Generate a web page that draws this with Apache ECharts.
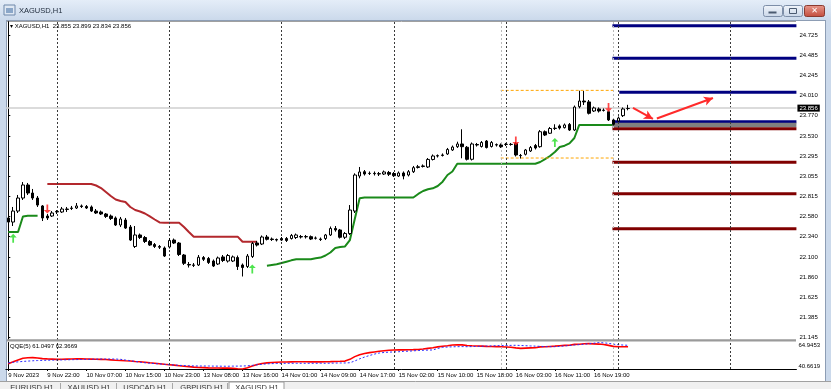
<!DOCTYPE html>
<html><head><meta charset="utf-8">
<script src="https://cdn.jsdelivr.net/npm/echarts@6/dist/echarts.min.js"></script>
<style>html,body{margin:0;padding:0;background:#fff;overflow:hidden}#c{width:831px;height:389px}</style>
</head><body><div id="c"></div>
<script>
// ---------------- DATA ----------------
const symbolName = 'XAGUSD,H1';
const timeLabels = ['9 Nov 2023','9 Nov 22:00','10 Nov 07:00','10 Nov 15:00','10 Nov 23:00','13 Nov 08:00','13 Nov 16:00','14 Nov 01:00','14 Nov 09:00','14 Nov 17:00','15 Nov 02:00','15 Nov 10:00','15 Nov 18:00','16 Nov 03:00','16 Nov 11:00','16 Nov 19:00'];
const priceTicks = [24.725,24.485,24.245,24.010,23.770,23.530,23.295,23.055,22.815,22.580,22.340,22.100,21.860,21.625,21.385,21.145];
const qqeMax = [64.9453];
const qqeMin = [40.6619];
const tabNames = ['EURUSD,H1','XAUUSD,H1','USDCAD,H1','GBPUSD,H1','XAGUSD,H1'];
// [open, close, low, high]
const ohlc = [
[22.561,22.513,22.490,22.596],[22.513,22.643,22.466,22.691],[22.643,22.797,22.620,22.833],[22.797,22.951,22.774,22.986],[22.951,22.856,22.833,22.975],
[22.856,22.797,22.774,22.904],[22.797,22.714,22.691,22.821],[22.703,22.561,22.525,22.714],[22.584,22.561,22.537,22.608],[22.584,22.620,22.573,22.643],
[22.632,22.638,22.608,22.655],[22.632,22.667,22.620,22.691],[22.661,22.667,22.632,22.691],[22.673,22.679,22.655,22.703],[22.679,22.703,22.667,22.738],
[22.703,22.697,22.679,22.720],[22.697,22.679,22.667,22.714],[22.691,22.643,22.632,22.709],[22.643,22.620,22.608,22.667],[22.632,22.608,22.596,22.649],
[22.608,22.579,22.561,22.620],[22.584,22.555,22.537,22.602],[22.561,22.478,22.466,22.579],[22.478,22.549,22.454,22.573],[22.537,22.442,22.431,22.561],
[22.454,22.300,22.289,22.478],[22.224,22.360,22.206,22.466],[22.360,22.330,22.312,22.377],[22.330,22.283,22.265,22.348],[22.283,22.241,22.230,22.300],
[22.247,22.224,22.206,22.265],[22.224,22.215,22.194,22.241],[22.206,22.111,22.100,22.224],[22.218,22.295,22.200,22.324],[22.300,22.265,22.253,22.318],
[22.265,22.129,22.111,22.277],[22.123,22.025,22.005,22.135],[22.011,22.005,21.975,22.040],[22.005,22.001,21.981,22.028],[22.005,22.096,21.993,22.123],
[22.093,22.072,22.052,22.111],[22.082,22.034,22.017,22.100],[22.052,21.993,21.981,22.070],[22.017,22.088,22.005,22.105],[22.100,22.058,22.040,22.123],
[22.052,22.117,22.034,22.135],[22.052,22.100,22.040,22.117],[22.093,21.987,21.946,22.117],[22.005,21.975,21.869,22.023],[21.987,22.111,21.969,22.135],
[22.105,22.259,22.088,22.277],[22.265,22.241,22.224,22.289],[22.253,22.336,22.241,22.354],[22.336,22.309,22.295,22.360],[22.312,22.306,22.289,22.330],
[22.306,22.300,22.283,22.318],[22.318,22.300,22.289,22.336],[22.318,22.295,22.277,22.336],[22.318,22.354,22.306,22.372],[22.330,22.360,22.312,22.377],
[22.342,22.336,22.318,22.360],[22.338,22.342,22.318,22.360],[22.340,22.312,22.300,22.354],[22.321,22.324,22.306,22.342],[22.312,22.306,22.289,22.330],
[22.318,22.360,22.300,22.372],[22.360,22.437,22.348,22.460],[22.437,22.419,22.399,22.466],[22.419,22.333,22.318,22.431],[22.333,22.377,22.312,22.395],
[22.377,22.655,22.360,22.714],[22.643,23.069,22.620,23.089],[23.057,23.105,23.030,23.164],[23.108,23.081,23.063,23.128],[23.087,23.089,23.069,23.111],
[23.089,23.085,23.063,23.111],[23.085,23.081,23.057,23.105],[23.081,23.105,23.069,23.122],[23.099,23.078,23.057,23.117],[23.087,23.061,23.046,23.105],
[23.057,23.093,23.046,23.111],[23.093,23.057,23.018,23.111],[23.069,23.108,23.052,23.128],[23.108,23.156,23.093,23.176],[23.158,23.167,23.146,23.188],
[23.170,23.176,23.158,23.194],[23.164,23.253,23.152,23.270],[23.253,23.294,23.241,23.312],[23.294,23.298,23.276,23.312],[23.300,23.306,23.288,23.324],
[23.318,23.371,23.306,23.389],[23.365,23.400,23.353,23.418],[23.404,23.436,23.389,23.463],[23.436,23.404,23.267,23.610],[23.397,23.255,23.241,23.412],
[23.255,23.436,23.241,23.454],[23.430,23.424,23.406,23.448],[23.406,23.454,23.394,23.471],[23.471,23.394,23.383,23.483],[23.406,23.454,23.394,23.471],
[23.428,23.424,23.406,23.442],[23.424,23.404,23.389,23.442],[23.430,23.432,23.412,23.448],[23.432,23.430,23.416,23.448],[23.442,23.306,23.288,23.459],
[23.300,23.298,23.264,23.318],[23.314,23.365,23.300,23.377],[23.353,23.394,23.341,23.412],[23.418,23.389,23.371,23.436],[23.404,23.581,23.392,23.601],
[23.581,23.542,23.530,23.596],[23.563,23.619,23.554,23.637],[23.619,23.623,23.601,23.669],[23.649,23.625,23.607,23.667],[23.629,23.661,23.619,23.678],
[23.667,23.601,23.590,23.684],[23.601,23.873,23.590,23.891],[23.877,23.944,23.858,24.066],[23.944,23.933,23.897,24.063],[23.933,23.799,23.785,23.956],
[23.826,23.862,23.814,23.879],[23.850,23.826,23.808,23.868],[23.832,23.836,23.820,23.856],[23.818,23.720,23.708,23.832],[23.720,23.669,23.655,23.732],
[23.708,23.743,23.696,23.761],[23.771,23.850,23.755,23.868],[23.855,23.856,23.834,23.899]
];
// trailing stop (resistance, red) starting at bar 8
const redStopStart = 8;
const redStop = [22.963,22.963,22.963,22.963,22.963,22.963,22.963,22.963,22.963,22.963,
 22.945,22.915,22.868,22.821,22.780,22.762,22.750,22.691,22.655,22.638,22.614,22.579,22.543,22.508,
 22.505,22.505,22.505,22.505,22.454,22.395,
 22.340,22.340,22.340,22.340,22.340,22.340,22.340,22.340,22.340,22.340,
 22.280,22.280,22.280,22.280];
// trailing stop (support, green)
const greenStopAStart = 0;
const greenStopA = [22.395,22.395,22.395,22.579,22.588,22.588,22.588];
const greenStopBStart = 53;
const greenStopB = [21.997,22.005,22.013,22.028,22.044,22.060,22.072,22.072,22.072,22.072,
 22.084,22.093,22.117,22.153,22.206,22.218,22.224,22.300,22.550,22.794,
 22.803,22.803,22.803,22.803,22.803,22.803,22.803,22.803,22.803,22.803,22.803,
 22.845,22.880,22.900,22.912,22.939,22.990,23.069,23.110,
 23.203,23.203,23.203,23.203,23.203,23.203,23.203,23.203,23.203,23.203,23.203,23.203,23.203,23.203,23.203,23.203,23.203,
 23.223,23.258,23.294,23.341,23.400,23.416,23.444,23.507,
 23.661,23.661,23.661,23.661,23.661,23.661,23.661,23.661];
// signal arrows [bar, price]
const sellArrows = [[8,22.667],[104,23.471],[123,23.868]];
const buyArrows = [[1,22.320],[50,21.958],[112,23.454]];
// horizontal levels drawn to the right
const levelStart = [123.8,123.8,125.2,123.8];
const blueLevels = [24.835,24.449,24.047,23.700];
const grayLevel = [23.661];
const redLevels = [23.617,23.219,22.848,22.434];
const levelEnd = 161.5;
const rangeFrom = 100.9, rangeTo = 124;
const rangeLevels = [24.070,23.270];
const bidPrice = 23.856;
const trendArrows = [[128,23.862,132.1,23.732],[132.9,23.738,144.4,23.980]];
const gridBars = [10,33,56,79,102,125,148];
const sessionBars = [101,124];
// QQE(5)
const qqeFast = [45.5,47.2,49.0,50.5,51.0,51.1,50.8,50.2,49.9,49.7,
 49.5,49.6,49.7,49.8,49.9,49.9,49.8,49.7,49.6,49.5,
 49.3,49.0,48.7,48.5,48.2,48.0,47.6,47.3,46.9,46.4,
 46.0,45.5,45.0,44.6,44.2,43.7,43.2,42.8,42.4,42.1,
 41.9,41.7,41.6,41.6,41.5,41.5,41.2,40.9,40.6619,41.8,
 43.5,44.8,45.7,46.3,46.6,46.9,47.1,47.1,47.2,47.3,
 47.3,47.3,47.2,47.2,47.2,47.3,47.4,47.6,47.7,47.9,
 49.5,52.0,53.8,54.9,55.7,56.3,56.9,57.4,57.9,58.1,
 58.2,58.2,58.3,58.4,58.6,59.0,59.6,60.2,60.9,61.5,
 62.0,62.6,62.9,62.8,62.2,61.9,61.7,61.6,61.4,61.3,
 61.2,61.0,60.8,60.6,60.0,59.6,59.8,60.0,60.2,60.9,
 61.0,61.3,61.6,62.0,62.3,62.4,63.2,63.4,63.8,63.9,
 63.7,63.5,63.1,62.3,61.4,61.1,61.0,61.0497];
const qqeSlow = [46.4,46.8,47.2,47.6,47.9,48.2,48.4,48.6,48.7,48.8,
 48.9,49.0,49.1,49.2,49.3,49.4,49.5,49.6,49.7,49.8,
 49.8,49.8,49.8,49.5,48.9,48.3,47.6,46.9,46.4,46.0,
 45.6,45.3,45.0,44.6,44.3,44.0,43.8,43.6,43.5,43.4,
 43.4,43.4,43.3,43.3,43.2,43.2,43.3,43.3,43.4,43.6,
 44.0,44.5,45.0,45.4,45.6,45.7,45.8,45.9,45.9,45.9,
 45.9,45.9,45.9,45.9,45.9,45.9,46.0,46.1,46.2,46.2,
 46.4,48.0,50.0,51.6,53.0,54.3,55.3,55.8,56.1,56.3,
 56.5,56.8,57.0,57.3,57.6,57.8,58.0,58.1,59.5,60.5,
 60.8,61.0,61.1,61.2,61.1,61.2,61.4,61.5,61.7,61.8,
 62.0,62.1,62.2,62.3,62.4,62.2,62.0,61.8,61.6,61.4,
 61.2,61.1,61.1,61.4,61.8,62.2,62.65,63.0,63.4,63.8,
 64.3,64.9453,64.6,64.2,63.4,62.9,62.6,62.3669];

// ---------------- BUILD ----------------
const FONT = 'Liberation Sans';
const N_SLOTS = 162;
const categories = Array.from({length: N_SLOTS}, (_, i) => String(i));
const XMIN = -0.5, XMAX = N_SLOTS - 0.5;
function place(start, arr) {
  const out = new Array(ohlc.length).fill(null);
  arr.forEach((v, k) => { out[start + k] = v; });
  return out;
}
const redStopFull = place(redStopStart, redStop);
const greenStopFull = place(greenStopAStart, greenStopA);
place(greenStopBStart, greenStopB).forEach((v, i) => { if (v != null) greenStopFull[i] = v; });

const last = ohlc[ohlc.length - 1];
const legendText = '\u25BE ' + symbolName + '  ' + [last[0], last[3], last[2], last[1]].map(v => v.toFixed(3)).join(' ');
const qqeText = 'QQE(5) ' + qqeFast[qqeFast.length - 1].toFixed(4) + ' ' + qqeSlow[qqeSlow.length - 1].toFixed(4);

const GL = 5.86, GW = 790.56;
const labelEvery = (idx) => idx % 8 === 0 && idx / 8 < timeLabels.length;

const downArrow = 'path://M3,0L5,0L5,6L8,6L4,10L0,6L3,6Z';
const upArrow = 'path://M4,0L8,4L5,4L5,10L3,10L3,4L0,4Z';

function levelSeries(from, to, price, color, width, extra) {
  return Object.assign({
    type: 'line', xAxisIndex: 1, yAxisIndex: 0, symbol: 'none', silent: true,
    data: [[from, price], [to, price]],
    lineStyle: { color: color, width: width }, z: 4
  }, extra || {});
}

const series = [];
series.push({
  type: 'line', xAxisIndex: 1, yAxisIndex: 0, data: [], silent: true,
  markLine: {
    silent: true, symbol: ['none', 'none'], animation: false,
    label: { show: false },
    data: gridBars.map(b => ({ xAxis: b, lineStyle: { color: '#3a3a3a', type: [2, 2], width: 1 } }))
      .concat(sessionBars.map(b => ({ xAxis: b, lineStyle: { color: '#b8b8b8', type: [2, 2], width: 1 } })))
      .concat([{ yAxis: bidPrice, lineStyle: { color: '#cfcfcf', type: 'solid', width: 1.5 },
        label: { show: true, position: 'end', distance: 1, formatter: bidPrice.toFixed(3), color: '#fff',
          backgroundColor: '#000', padding: [1, 2, 0, 2], fontSize: 6, fontFamily: FONT } }])
  },
  z: 1
});
series.push({
  type: 'line', xAxisIndex: 1, yAxisIndex: 0, data: [], silent: true,
  markLine: {
    silent: true, animation: false, symbol: ['none', 'arrow'], symbolSize: [7, 9],
    label: { show: false },
    lineStyle: { color: '#ff2a2a', width: 2, type: 'solid' },
    data: trendArrows.map(a => [{ coord: [a[0], a[1]] }, { coord: [a[2], a[3]] }])
  },
  z: 6
});
rangeLevels.forEach(p => series.push(levelSeries(rangeFrom, rangeTo, p, '#ffa500', 1, { lineStyle: { color: '#ffa500', width: 1, type: [3, 2] } })));
blueLevels.forEach((p, k) => series.push(levelSeries(levelStart[k], levelEnd, p, '#000080', 3)));
grayLevel.forEach(p => series.push(levelSeries(levelStart[0], levelEnd, p, '#808080', 4.5, {
  data: [{ value: [levelStart[0], p], label: { show: true, position: 'right', distance: 1, formatter: 'Sell: ' + p.toFixed(4),
    color: '#f4e4e4', fontSize: 5.5, fontFamily: FONT } }, [levelEnd, p]]
})));
redLevels.forEach(p => series.push(levelSeries(levelStart[0], levelEnd, p, '#800000', 3)));
series.push({ type: 'line', xAxisIndex: 0, yAxisIndex: 0, data: redStopFull, symbol: 'none', connectNulls: false, silent: true,
  lineStyle: { color: '#b3282d', width: 2 }, z: 3 });
series.push({ type: 'line', xAxisIndex: 0, yAxisIndex: 0, data: greenStopFull, symbol: 'none', connectNulls: false, silent: true,
  lineStyle: { color: '#1a8a1a', width: 2 }, z: 3 });
series.push({ type: 'candlestick', xAxisIndex: 0, yAxisIndex: 0, data: ohlc, barWidth: 3, silent: true,
  itemStyle: { color: '#ffffff', color0: '#000000', borderColor: '#000000', borderColor0: '#000000', borderWidth: 1 }, z: 5 });
series.push({ type: 'scatter', xAxisIndex: 1, yAxisIndex: 0, data: sellArrows, symbol: downArrow, symbolSize: [7, 9], silent: true,
  itemStyle: { color: '#ff1a1a' }, z: 7 });
series.push({ type: 'scatter', xAxisIndex: 1, yAxisIndex: 0, data: buyArrows, symbol: upArrow, symbolSize: [7, 9], silent: true,
  itemStyle: { color: '#22dd22' }, z: 7 });
series.push({
  type: 'line', xAxisIndex: 3, yAxisIndex: 1, data: [], silent: true,
  markLine: {
    silent: true, symbol: ['none', 'none'], animation: false, label: { show: false },
    data: gridBars.map(b => ({ xAxis: b, lineStyle: { color: '#3a3a3a', type: [2, 2], width: 1 } }))
      .concat(sessionBars.map(b => ({ xAxis: b, lineStyle: { color: '#b8b8b8', type: [2, 2], width: 1 } })))
  }, z: 1
});
series.push({ type: 'line', xAxisIndex: 2, yAxisIndex: 1, data: qqeFast, symbol: 'none', silent: true,
  lineStyle: { color: '#ff0000', width: 1.6 }, z: 3 });
series.push({ type: 'line', xAxisIndex: 2, yAxisIndex: 1, data: qqeSlow, symbol: 'none', silent: true,
  lineStyle: { color: '#2b2bff', width: 1, type: [2, 2] }, z: 4 });

const tabX = [10, 67, 123, 180, 235];
const tabSep = [60, 116, 172, 227];
const graphic = [
  { type: 'rect', shape: { x: 0, y: 0, width: 831, height: 20 }, silent: true,
    style: { fill: new echarts.graphic.LinearGradient(0, 0, 0, 1, [{ offset: 0, color: '#e4edf8' }, { offset: 1, color: '#cbd9eb' }]) } },
  { type: 'rect', shape: { x: 0, y: 20, width: 6, height: 362 }, style: { fill: '#cbd9eb' }, silent: true },
  { type: 'rect', shape: { x: 826, y: 20, width: 5, height: 362 }, style: { fill: '#cbd9eb' }, silent: true },
  { type: 'line', shape: { x1: 6.5, y1: 20, x2: 6.5, y2: 381 }, style: { stroke: '#8d9db4', lineWidth: 1 }, silent: true },
  { type: 'line', shape: { x1: 825.5, y1: 20, x2: 825.5, y2: 381 }, style: { stroke: '#8d9db4', lineWidth: 1 }, silent: true },
  { type: 'line', shape: { x1: 6, y1: 20.5, x2: 826, y2: 20.5 }, style: { stroke: '#8d9db4', lineWidth: 1 }, silent: true },
  { type: 'line', shape: { x1: 7, y1: 21.5, x2: 796, y2: 21.5 }, style: { stroke: '#a0a0a0', lineWidth: 1 }, silent: true },
  { type: 'rect', shape: { x: 7, y: 339.2, width: 789, height: 2.3 }, style: { fill: '#9a9a9a' }, silent: true, z: 20 },
  { type: 'rect', shape: { x: 0, y: 381, width: 831, height: 8 }, style: { fill: '#f0f0f0' }, silent: true },
  { type: 'line', shape: { x1: 0, y1: 381.5, x2: 831, y2: 381.5 }, style: { stroke: '#a0a0a0', lineWidth: 1 }, silent: true },
  { type: 'rect', shape: { x: 229, y: 382, width: 55, height: 8 }, style: { fill: '#ffffff', stroke: '#9a9a9a', lineWidth: 1 }, silent: true },
  { type: 'rect', shape: { x: 4, y: 5, width: 11, height: 10 }, style: { fill: '#dfe8f3', stroke: '#6f88aa', lineWidth: 1 }, silent: true },
  { type: 'rect', shape: { x: 6, y: 8, width: 7, height: 5 }, style: { fill: '#8aa6c8' }, silent: true },
  { type: 'text', x: 19, y: 10.5, silent: true, style: { text: symbolName, fontSize: 7.5, fontFamily: FONT, fill: '#1e2a3a', verticalAlign: 'middle' } },
  { type: 'rect', shape: { x: 763.5, y: 5.5, width: 19, height: 11, r: 2 }, silent: true,
    style: { fill: new echarts.graphic.LinearGradient(0, 0, 0, 1, [{ offset: 0, color: '#f2f6fb' }, { offset: 1, color: '#c9d6e8' }]), stroke: '#7d8ea8', lineWidth: 1 } },
  { type: 'rect', shape: { x: 768.5, y: 11.5, width: 8, height: 2 }, style: { fill: '#4a5a70' }, silent: true },
  { type: 'rect', shape: { x: 783.5, y: 5.5, width: 19, height: 11, r: 2 }, silent: true,
    style: { fill: new echarts.graphic.LinearGradient(0, 0, 0, 1, [{ offset: 0, color: '#f2f6fb' }, { offset: 1, color: '#c9d6e8' }]), stroke: '#7d8ea8', lineWidth: 1 } },
  { type: 'rect', shape: { x: 789.5, y: 8.5, width: 7, height: 5 }, style: { fill: 'none', stroke: '#4a5a70', lineWidth: 1 }, silent: true },
  { type: 'rect', shape: { x: 804.5, y: 5.5, width: 20, height: 11, r: 2 }, silent: true,
    style: { fill: new echarts.graphic.LinearGradient(0, 0, 0, 1, [{ offset: 0, color: '#e89a8e' }, { offset: 1, color: '#c24a3a' }]), stroke: '#8a3a30', lineWidth: 1 } },
  { type: 'text', x: 814.5, y: 11, silent: true, style: { text: '\u2715', fontSize: 8, fill: '#ffffff', align: 'center', verticalAlign: 'middle', fontFamily: 'DejaVu Sans' } }
];
tabNames.forEach((t, k) => graphic.push({ type: 'text', x: tabX[k] + 22, y: 384, silent: true,
  style: { text: t, fontSize: 7.5, fontFamily: FONT, fill: '#333', align: 'center', verticalAlign: 'top' } }));
tabSep.forEach(x => graphic.push({ type: 'line', shape: { x1: x + 0.5, y1: 383, x2: x + 0.5, y2: 389 }, style: { stroke: '#a8a8a8', lineWidth: 1 }, silent: true }));

const axisText = { fontSize: 6, fontFamily: FONT, color: '#000' };
const option = {
  animation: false,
  backgroundColor: '#ffffff',
  textStyle: { fontFamily: FONT },
  title: [
    { text: legendText, left: 10, top: 23, padding: 0, textStyle: { fontSize: 6, fontWeight: 'normal', color: '#000', fontFamily: FONT } },
    { text: qqeText, left: 10, top: 343.5, padding: 0, textStyle: { fontSize: 6, fontWeight: 'normal', color: '#000', fontFamily: FONT } }
  ],
  grid: [
    { left: GL, top: 21.7, width: GW, height: 318.3, show: false },
    { left: GL, top: 342.5, width: GW, height: 26.5, show: false }
  ],
  xAxis: [
    { type: 'category', gridIndex: 0, data: categories, boundaryGap: true, show: false },
    { type: 'value', gridIndex: 0, min: XMIN, max: XMAX, show: false },
    { type: 'category', gridIndex: 1, data: categories, boundaryGap: true,
      axisLine: { show: true, lineStyle: { color: '#000', width: 1 } },
      axisTick: { show: true, alignWithLabel: true, interval: labelEvery, length: 2, lineStyle: { color: '#000' } },
      axisLabel: Object.assign({ interval: labelEvery, formatter: (v, i) => timeLabels[i / 8], align: 'left', margin: 3 }, axisText),
      splitLine: { show: false } },
    { type: 'value', gridIndex: 1, min: XMIN, max: XMAX, show: false }
  ],
  yAxis: [
    { type: 'value', gridIndex: 0, position: 'right', min: 21.118, max: 24.882,
      axisLine: { show: true, lineStyle: { color: '#000', width: 1 } },
      axisTick: { show: true, customValues: priceTicks, length: 2, lineStyle: { color: '#000' } },
      axisLabel: Object.assign({ customValues: priceTicks, formatter: v => v.toFixed(3), margin: 3 }, axisText),
      splitLine: { show: false } },
    { type: 'value', gridIndex: 1, position: 'right', min: qqeMin[0], max: qqeMax[0],
      axisLine: { show: true, lineStyle: { color: '#000', width: 1 } },
      axisTick: { show: false },
      axisLabel: Object.assign({ customValues: qqeMax, formatter: v => v.toFixed(4), margin: 2, verticalAlign: 'top' }, axisText),
      splitLine: { show: false } },
    { type: 'value', gridIndex: 1, position: 'right', min: qqeMin[0], max: qqeMax[0],
      axisLine: { show: false }, axisTick: { show: false },
      axisLabel: Object.assign({ customValues: qqeMin, formatter: v => v.toFixed(4), margin: 2, verticalAlign: 'bottom' }, axisText),
      splitLine: { show: false } }
  ],
  graphic: graphic,
  series: series
};
const chart = echarts.init(document.getElementById('c'), null, { renderer: 'canvas', width: 831, height: 389 });
chart.setOption(option);
</script>
</body></html>
